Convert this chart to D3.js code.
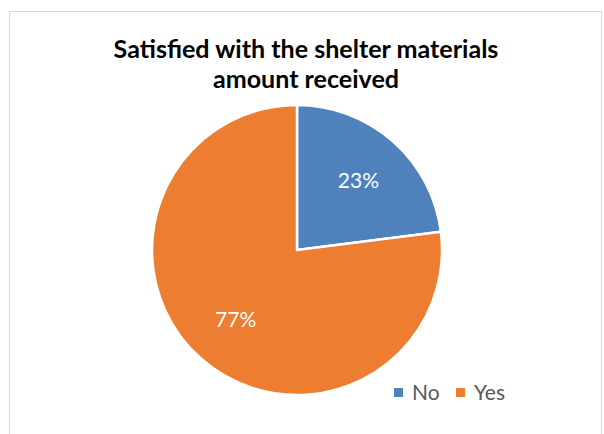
<!DOCTYPE html>
<html><head><meta charset="utf-8">
<script src="https://cdn.jsdelivr.net/npm/d3@7"></script>
<style>html,body{margin:0;padding:0;background:#fff;}</style>
</head><body>
<svg id="c" width="604" height="434"></svg>
<script>
const titleLines = ["Satisfied with the shelter materials", "amount received"];
const categories = ["No", "Yes"];
const values = [23, 77];
const colors = ["#4F81BD", "#ED7D31"];

const svg = d3.select("#c");
const font = "Lato, 'Liberation Sans', Arial, sans-serif";

svg.append("rect").attr("x", 9.5).attr("y", 11.5).attr("width", 592).attr("height", 440)
  .attr("fill", "#fff").attr("stroke", "#d9d9d9").attr("stroke-width", 1);

// title
const title = svg.append("text").attr("text-anchor", "middle")
  .attr("font-family", font).attr("font-weight", "bold").attr("fill", "#000");
titleLines.forEach((t, i) => {
  title.append("tspan").attr("x", 306).attr("y", 58 + i * 30).text(t);
});
title.attr("font-size", 22);
const w0 = title.select("tspan").node().getComputedTextLength();
title.attr("font-size", 22 * 385 / w0);

const cx = 297, cy = 250, r = 145;
const g = svg.append("g").attr("transform", `translate(${cx},${cy})`);
const pie = d3.pie().sort(null).value(d => d)(values);
const arc = d3.arc().innerRadius(0).outerRadius(r);
const labelArc = d3.arc().innerRadius(r * 0.64).outerRadius(r * 0.64);

g.selectAll("path").data(pie).join("path")
  .attr("d", arc).attr("fill", (d, i) => colors[i])
  .attr("stroke", "#fff").attr("stroke-width", 2.5).attr("stroke-linejoin", "round");

const total = d3.sum(values);
g.selectAll("text.lbl").data(pie).join("text").attr("class", "lbl")
  .attr("transform", d => `translate(${labelArc.centroid(d)})`)
  .attr("text-anchor", "middle").attr("dy", "0.35em")
  .attr("font-family", font).attr("font-size", 21).attr("fill", "#fff")
  .text(d => Math.round(d.data / total * 100) + "%");

// legend
const legendX = [394, 456];
const leg = svg.append("g");
categories.forEach((c, i) => {
  leg.append("rect").attr("x", legendX[i]).attr("y", 388).attr("width", 9).attr("height", 9).attr("fill", colors[i]);
  leg.append("text").attr("x", legendX[i] + 18).attr("y", 400)
    .attr("font-family", font).attr("font-size", 21).attr("fill", "#595959").text(c);
});
</script>
</body></html>
